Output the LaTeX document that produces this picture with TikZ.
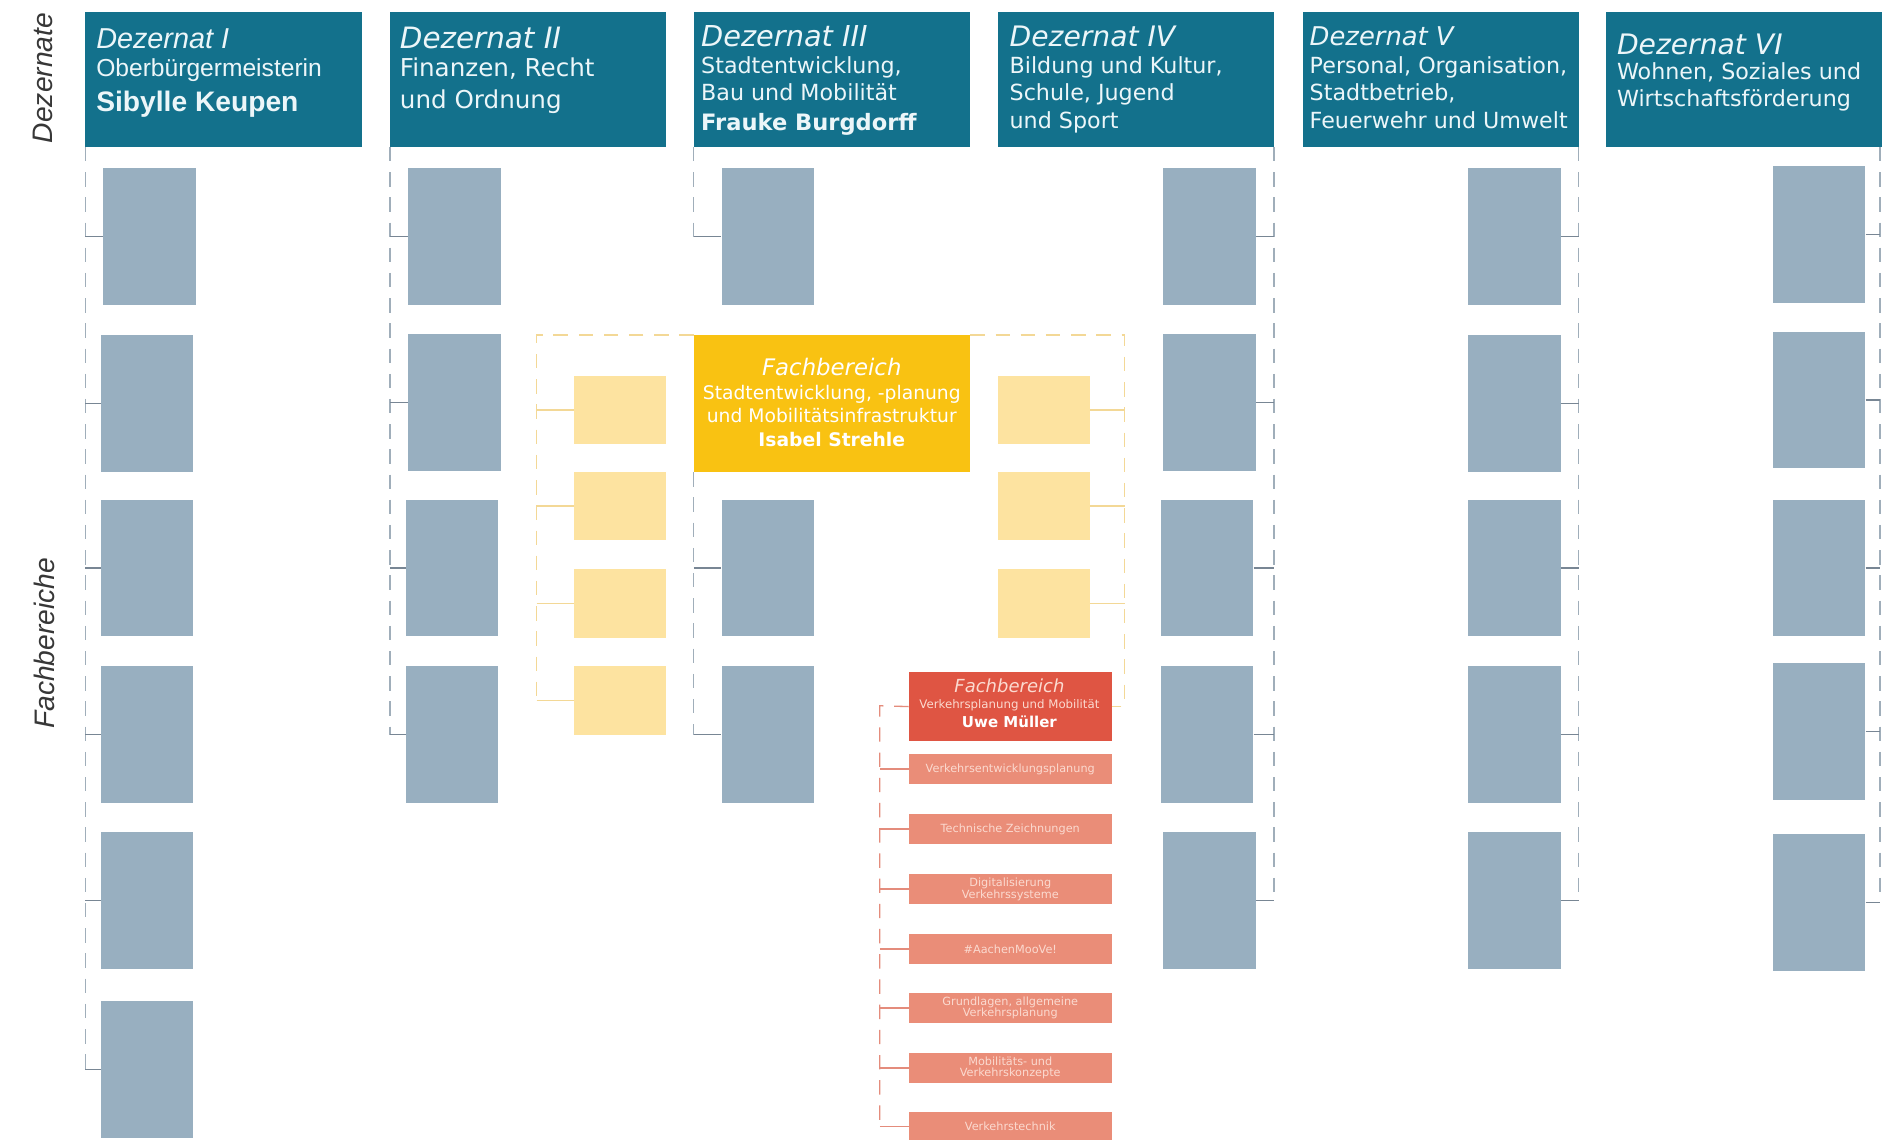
\documentclass[tikz,border=0pt]{standalone}
\usepackage{fontspec}
\setmainfont{DejaVu Sans}
\newfontfamily\arialf{Liberation Sans}
\definecolor{hdr}{RGB}{19,113,140}
\definecolor{htxt}{RGB}{236,246,249}
\definecolor{fbc}{RGB}{152,175,192}
\definecolor{lcol}{RGB}{160,174,186}
\definecolor{tcol}{RGB}{120,134,148}
\definecolor{ybig}{RGB}{249,194,18}
\definecolor{ysmall}{RGB}{253,227,160}
\definecolor{yline}{RGB}{243,216,150}
\definecolor{rbig}{RGB}{223,85,67}
\definecolor{rsmall}{RGB}{234,141,120}
\definecolor{rline}{RGB}{228,140,124}
\definecolor{rtxt}{RGB}{251,218,208}
\definecolor{lbl}{RGB}{55,55,55}
\newcommand{\fs}[1]{\fontsize{#1}{#1}\selectfont}
\begin{document}
\begin{tikzpicture}[x=1pt,y=-1pt,
  hdrbox/.style={fill=hdr, draw=none, inner sep=0, anchor=north west, minimum width=230, minimum height=112},
  fbx/.style={fill=fbc, draw=none, inner sep=0, anchor=north west, minimum width=77, minimum height=114},
  ysm/.style={fill=ysmall, draw=none, inner sep=0, anchor=north west, minimum width=77, minimum height=57},
  rsm/.style={fill=rsmall, draw=none, inner sep=0, anchor=north west, minimum width=169, minimum height=25,
              align=center, text=rtxt, font=\fontsize{9.4}{9.8}\selectfont},
  hl/.style={anchor=base west, inner sep=0, text=htxt},
  cl/.style={anchor=base, inner sep=0},
  dl/.style={draw=lcol, line width=1.1pt, dash pattern=on 12pt off 9pt},
  tk/.style={draw=tcol, line width=1.1pt},
  ydl/.style={draw=yline, line width=1.1pt, dash pattern=on 12pt off 9pt},
  ytk/.style={draw=yline, line width=1.1pt},
  rdl/.style={draw=rline, line width=1.1pt, dash pattern=on 12pt off 9pt},
  rtk/.style={draw=rline, line width=1.1pt}
]
\useasboundingbox (0,0) rectangle (1568,949);
\fill[white] (0,0) rectangle (1568,949);

% side labels
\node[rotate=90, inner sep=0, text=lbl, font=\arialf\itshape\fs{23.5}] (ldez) at (36,65) {Dezernate};
\node[rotate=90, inner sep=0, text=lbl, font=\arialf\itshape\fs{23.5}] (lfb) at (37,536) {Fachbereiche};

% headers
\node[hdrbox] (h1) at (71,10) {};
\node[hdrbox] (h2) at (325,10) {};
\node[hdrbox] (h3) at (578,10) {};
\node[hdrbox] (h4) at (831,10) {};
\node[hdrbox] (h5) at (1085,10) {};
\node[hdrbox] (h6) at (1338,10) {};

\node[hl, font=\arialf\itshape\fs{24}] (h1a) at (80,40) {Dezernat I};
\node[hl, font=\arialf\fs{20.5}] (h1b) at (80,64) {Oberbürgermeisterin};
\node[hl, font=\arialf\bfseries\fs{23.5}] (h1c) at (80,93) {Sibylle Keupen};

\node[hl, font=\itshape\fs{24.5}] (h2a) at (333,40) {Dezernat II};
\node[hl, font=\fs{20.5}] (h2b) at (333,64) {Finanzen, Recht};
\node[hl, font=\fs{20.5}] (h2c) at (333,90) {und Ordnung};

\node[hl, font=\itshape\fs{24}] (h3a) at (584,39) {Dezernat III};
\node[hl, font=\fs{18.5}] (h3b) at (584,61) {Stadtentwicklung,};
\node[hl, font=\fs{18.5}] (h3c) at (584,84) {Bau und Mobilität};
\node[hl, font=\bfseries\fs{18.8}] (h3d) at (584,109) {Frauke Burgdorff};

\node[hl, font=\itshape\fs{23.5}] (h4a) at (841,39) {Dezernat IV};
\node[hl, font=\fs{18.5}] (h4b) at (841,61) {Bildung und Kultur,};
\node[hl, font=\fs{18.5}] (h4c) at (841,84) {Schule, Jugend};
\node[hl, font=\fs{18.5}] (h4d) at (841,107) {und Sport};

\node[hl, font=\itshape\fs{21.5}] (h5a) at (1091,38) {Dezernat V};
\node[hl, font=\fs{18.5}] (h5b) at (1091,61) {Personal, Organisation,};
\node[hl, font=\fs{18.5}] (h5c) at (1091,84) {Stadtbetrieb,};
\node[hl, font=\fs{18.5}] (h5d) at (1091,107) {Feuerwehr und Umwelt};

\node[hl, font=\itshape\fs{23.5}] (h6a) at (1347,45) {Dezernat VI};
\node[hl, font=\fs{18.5}] (h6b) at (1347,66) {Wohnen, Soziales und};
\node[hl, font=\fs{18.5}] (h6c) at (1347,89) {Wirtschaftsförderung};

% Fachbereiche boxes
\foreach \n/\x/\y in {a1/86/140, a2/84/279, a3/84/416, a4/84/555, a5/84/693, a6/84/834,
                      b1/340/140, b2/340/278, b3/338/416, b4/338/555,
                      c1/601/140, c3/601/416, c4/601/555,
                      d1/969/140, d2/969/278, d3/967/416, d4/967/555, d5/969/693,
                      e1/1223/140, e2/1223/279, e3/1223/416, e4/1223/555, e5/1223/693,
                      f1/1477/138, f2/1477/276, f3/1477/416, f4/1477/552, f5/1477/695}
  \node[fbx] (\n) at (\x,\y) {};

% column connectors (left side)
\draw[dl] (h1.south west) -- (a6.west -| h1.south west);
\foreach \n in {a1,a2,a3,a4,a5,a6} \draw[tk] (\n.west -| h1.south west) -- (\n.west);
\draw[dl] (h2.south west) -- (b4.west -| h2.south west);
\foreach \n in {b1,b2,b3,b4} \draw[tk] (\n.west -| h2.south west) -- (\n.west);
\draw[dl] (h3.south west) -- (c1.west -| h3.south west);
\draw[tk] (c1.west -| h3.south west) -- (c1.west);

% column connectors (right side)
\draw[dl] (h4.south east) -- (d5.east -| h4.south east);
\foreach \n in {d1,d2,d3,d4,d5} \draw[tk] (\n.east) -- (\n.east -| h4.south east);
\draw[dl] (h5.south east) -- (e5.east -| h5.south east);
\foreach \n in {e1,e2,e3,e4,e5} \draw[tk] (\n.east) -- (\n.east -| h5.south east);
\coordinate (h6r) at ([xshift=-2pt]h6.south east);
\draw[dl] (h6r) -- (f5.east -| h6r);
\foreach \n in {f1,f2,f3,f4,f5} \draw[tk] (\n.east) -- (\n.east -| h6r);

% yellow Fachbereich
\coordinate (yfl) at (447,279);
\coordinate (yfr) at (937,279);
\node[fill=ybig, inner sep=0, anchor=north west, minimum width=230, minimum height=114] (fby) at (578,279) {};
\node[cl, text=white, font=\itshape\fs{19}] (fby1) at (693,313) {Fachbereich};
\node[cl, text=white, font=\fs{15.6}] (fby2) at (693,333) {Stadtentwicklung, -planung};
\node[cl, text=white, font=\fs{15.6}] (fby3) at (693,352) {und Mobilitätsinfrastruktur};
\node[cl, text=white, font=\bfseries\fs{15.6}] (fby4) at (693,372) {Isabel Strehle};

\foreach \n/\y in {yl1/313, yl2/393, yl3/474, yl4/555} \node[ysm] (\n) at (478,\y) {};
\foreach \n/\y in {yr1/313, yr2/393, yr3/474} \node[ysm] (\n) at (831,\y) {};

\draw[dl] (fby.south west) -- (c4.west -| fby.south west);
\foreach \n in {c3,c4} \draw[tk] (\n.west -| fby.south west) -- (\n.west);

% red Fachbereich
\node[fill=rbig, inner sep=0, anchor=north west, minimum width=169, minimum height=57] (fbr) at (757,560) {};
\node[cl, text=rtxt, font=\itshape\fs{15}] (fbr1) at (841,577) {Fachbereich};
\node[cl, text=rtxt, font=\fs{9.8}] (fbr2) at (841,590) {Verkehrsplanung und Mobilität};
\node[cl, text=white, font=\bfseries\fs{12.5}] (fbr3) at (841,606) {Uwe Müller};

% yellow frame
\draw[ydl] (fby.north west) -- (yfl) -- (yl4.west -| yfl);
\foreach \n in {yl1,yl2,yl3,yl4} \draw[ytk] (\n.west -| yfl) -- (\n.west);
\draw[ydl] (fby.north east) -- (yfr) -- (fbr.east -| yfr) -- (fbr.east);
\foreach \n in {yr1,yr2,yr3} \draw[ytk] (\n.east) -- (\n.east -| yfr);

% salmon boxes
\node[rsm] (s1) at (757,628) {Verkehrsentwicklungsplanung};
\node[rsm] (s2) at (757,678) {Technische Zeichnungen};
\node[rsm] (s3) at (757,728) {Digitalisierung\\Verkehrssysteme};
\node[rsm] (s4) at (757,778) {\#AachenMooVe!};
\node[rsm] (s5) at (757,827) {Grundlagen, allgemeine\\Verkehrsplanung};
\node[rsm] (s6) at (757,877) {Mobilitäts- und\\Verkehrskonzepte};
\node[rsm] (s7) at (757,926) {Verkehrstechnik};

\coordinate (rl) at (733,588);
\draw[rdl] (fbr.west) -- (rl) -- (s7.west -| rl);
\foreach \n in {s1,s2,s3,s4,s5,s6,s7} \draw[rtk] (\n.west -| rl) -- (\n.west);
\end{tikzpicture}
\end{document}
